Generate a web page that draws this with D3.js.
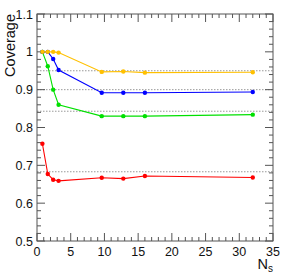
<!DOCTYPE html>
<html>
<head>
<meta charset="utf-8">
<style>
  body { margin: 0; background: #fff; }
  svg { display: block; font-family: "Liberation Sans", Arial, sans-serif; }
  .frame { fill: none; stroke: #555; stroke-width: 1; }
  .tick { stroke: #555; stroke-width: 1; }
  .ref { stroke: #999; stroke-width: 1; stroke-dasharray: 1.5,1.5; }
  .series { fill: none; stroke-width: 1.1; }
  .lab { font-size: 12.5px; fill: #111; }
</style>
<title>Coverage vs Ns</title>
</head>
<body>
<script src="https://cdn.jsdelivr.net/npm/d3@7"></script>
<script>
// Ns values (shared by all series)
var ns = [0.8, 1.6, 2.4, 3.2, 9.6, 12.8, 16, 32];

// coverage per series
var yellowCov = [1.0, 1.0, 1.0, 0.998, 0.947, 0.948, 0.945, 0.946];
var blueCov   = [1.0, 1.0, 0.981, 0.952, 0.892, 0.892, 0.892, 0.894];
var greenCov  = [1.0, 0.962, 0.900, 0.860, 0.830, 0.830, 0.830, 0.834];
var redCov    = [0.757, 0.677, 0.662, 0.659, 0.667, 0.665, 0.672, 0.668];

// nominal coverage reference lines
var refLevels = [0.683, 0.843, 0.90, 0.95];

var xTicks = [0, 5, 10, 15, 20, 25, 30, 35];
var yTicks = [0.5, 0.6, 0.7, 0.8, 0.9, 1.0, 1.1];

var series = [
  {name: "red",    values: redCov,    color: "#ff0000"},
  {name: "green",  values: greenCov,  color: "#00e000"},
  {name: "blue",   values: blueCov,   color: "#0000ff"},
  {name: "yellow", values: yellowCov, color: "#ffc000"}
];

var W = 287, H = 275;
var margin = {top: 14, right: 14, bottom: 34, left: 37},
    width = W - margin.left - margin.right,
    height = H - margin.top - margin.bottom;

var x = d3.scaleLinear().domain([0, 35]).range([0, width]);
var y = d3.scaleLinear().domain([0.5, 1.1]).range([height, 0]);

var svg = d3.select("body").append("svg")
    .attr("width", W)
    .attr("height", H);

var g = svg.append("g")
    .attr("transform", `translate(${margin.left},${margin.top})`);

// reference dotted lines
g.selectAll(".ref").data(refLevels).enter().append("line")
    .attr("class", "ref")
    .attr("x1", 0).attr("x2", width)
    .attr("y1", d => y(d)).attr("y2", d => y(d));

// ticks (ROOT style: inside frame, all four sides)
var xMinor = d3.range(0, 35.01, 1);
var yMinor = d3.range(0.5, 1.1001, 0.02);
var majLen = 8, minLen = 4;

function isMajorX(v) { return Math.abs(v % 5) < 1e-6; }
function isMajorY(v) { return Math.abs(Math.round(v * 10) - v * 10) < 1e-6; }

xMinor.forEach(function(v) {
  var len = isMajorX(v) ? majLen : minLen;
  g.append("line").attr("class", "tick")
    .attr("x1", x(v)).attr("x2", x(v)).attr("y1", height).attr("y2", height - len);
  g.append("line").attr("class", "tick")
    .attr("x1", x(v)).attr("x2", x(v)).attr("y1", 0).attr("y2", len);
});
yMinor.forEach(function(v) {
  var len = isMajorY(v) ? majLen : minLen;
  g.append("line").attr("class", "tick")
    .attr("x1", 0).attr("x2", len).attr("y1", y(v)).attr("y2", y(v));
  g.append("line").attr("class", "tick")
    .attr("x1", width).attr("x2", width - len).attr("y1", y(v)).attr("y2", y(v));
});

// frame
g.append("rect").attr("class", "frame")
    .attr("x", 0).attr("y", 0).attr("width", width).attr("height", height);

// tick labels
g.selectAll(".xl").data(xTicks).enter().append("text")
    .attr("class", "lab")
    .attr("x", d => x(d)).attr("y", height + 15)
    .attr("text-anchor", "middle")
    .text(d => d);

g.selectAll(".yl").data(yTicks).enter().append("text")
    .attr("class", "lab")
    .attr("x", -4).attr("y", d => y(d) + 4.5)
    .attr("text-anchor", "end")
    .text(d => d3.format("")(+d.toFixed(1)));

// series lines + markers
var line = d3.line()
    .x((d, i) => x(ns[i]))
    .y(d => y(d));

series.forEach(function(s) {
  g.append("path").attr("class", "series")
    .attr("d", line(s.values))
    .attr("stroke", s.color);
  g.selectAll(".pt-" + s.name).data(s.values).enter().append("circle")
    .attr("cx", (d, i) => x(ns[i]))
    .attr("cy", d => y(d))
    .attr("r", 2.2)
    .attr("fill", s.color);
});

// axis titles
svg.append("text")
    .attr("transform", `translate(${margin.left - 22},${margin.top}) rotate(-90)`)
    .attr("text-anchor", "end")
    .style("font-size", "14.5px")
    .attr("fill", "#111")
    .text("Coverage");

var nsText = svg.append("text")
    .attr("x", W - 14).attr("y", H - 6)
    .attr("text-anchor", "end")
    .style("font-size", "14.5px")
    .attr("fill", "#111");
nsText.append("tspan").text("N");
nsText.append("tspan").attr("dy", 3).style("font-size", "10px").text("s");
</script>
</body>
</html>
